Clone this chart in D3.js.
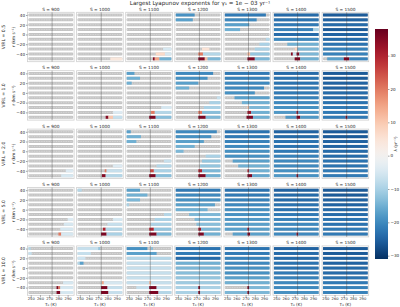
<!DOCTYPE html>
<html>
<head>
<meta charset="utf-8">
<script src="https://cdn.jsdelivr.net/npm/d3@7"></script>
<style>
  body { margin: 0; background: #fff; }
  text { font-family: "DejaVu Sans", sans-serif; fill: #262626; }
</style>
</head>
<body>
<svg id="chart" width="400" height="307"></svg>
<script>

//--------------------------------------
// DATA
//--------------------------------------

const VIRL_VALUES = [0.5, 1.0, 2.0, 5.0, 10.0];
const S_VALUES = [900, 1000, 1100, 1200, 1300, 1400, 1500];
const STRIPE_LEVELS = [40, 30, 20, 10, 0, -10, -20, -30, -40, -50];
const T0_TICKS = [250, 260, 270, 280, 290];
const LEVEL_TICKS = [40, 20, 0, -20, -40];
const CBAR_TICKS = [-30, -20, -10, 0, 10, 20, 30];
const T0_RANGE = [247.5, 296];
const FREEZING_T0 = 273.15;
const LAMBDA_RANGE = [-31, 38];

// one entry per S, each with one list per stripe (top to bottom)
// segments are [T0 start, T0 end, lambda]; anything not covered is grey
const lyapVirl05 = [
  [],
  [[], [], [], [], [], [], [], [], [], [[283, 296, 4]]],
  [[], [], [], [], [], [], [], [[287, 296, -5]], [[279, 289, 7], [289, 296, -5]], [[276, 278, 35], [278, 283, 15], [283, 296, -15]]],
  [[[247.5, 268, -19]], [[247.5, 266, -17]], [], [], [], [], [], [[276, 284, 5]], [[272, 277, 20], [277, 296, -9]], [[272, 279, 36], [279, 282, 12], [282, 296, -14]]],
  [[[247.5, 292, -22]], [[247.5, 282, -20]], [[247.5, 274, -17]], [[247.5, 264, -15]], [], [[292, 296, -9]], [[285, 296, -10]], [[280, 296, -10]], [[272, 275, 12], [275, 296, -12]], [[272, 280, 36], [280, 296, -14]]],
  [[[247.5, 296, -24]], [[247.5, 296, -23]], [[247.5, 296, -22]], [[247.5, 290, -21], [290, 296, -10]], [[247.5, 296, -24]], [[247.5, 296, -20]], [[262, 296, -15]], [[270, 273, 8], [273, 296, -14]], [[266, 268, 35], [268, 272, -7], [272, 275, 35], [275, 296, -14]], [[270, 276, 36], [276, 296, -15]]],
  [[[247.5, 296, -26]], [[247.5, 296, -25]], [[247.5, 296, -24]], [[247.5, 296, -26]], [[247.5, 296, -25]], [[247.5, 296, -24]], [[247.5, 296, -23]], [[247.5, 296, -21]], [[247.5, 296, -21]], [[252, 270, -17], [270, 276, 36], [276, 296, -21]]]
];

const lyapVirl10 = [
  [],
  [[], [], [], [], [], [], [], [], [[286, 296, -4]], [[278, 281, 35], [281, 286, 10], [286, 296, -7]]],
  [[[247.5, 256, -17]], [[247.5, 262, -15]], [[247.5, 253, -15]], [], [], [], [], [[285, 296, -5]], [[274, 278, 20], [278, 296, -9]], [[272, 279, 36], [279, 296, -13]]],
  [[[247.5, 288, -20]], [[247.5, 282, -19]], [[247.5, 272, -17]], [[247.5, 262, -15]], [], [[292, 296, -7]], [[284, 296, -10]], [[278, 296, -10]], [[272, 276, 20], [276, 296, -13]], [[272, 280, 36], [280, 296, -14]]],
  [[[247.5, 296, -22]], [[247.5, 296, -21]], [[247.5, 296, -20]], [[247.5, 290, -20]], [[247.5, 280, -19]], [[258, 296, -17]], [[266, 296, -15]], [[272, 274, 10], [274, 296, -14]], [[272, 276, 32], [276, 296, -15]], [[271, 278, 36], [278, 296, -15]]],
  [[[247.5, 296, -24]], [[247.5, 296, -23]], [[247.5, 296, -23]], [[247.5, 296, -22]], [[247.5, 296, -22]], [[247.5, 296, -21]], [[247.5, 296, -20]], [[247.5, 296, -19]], [[247.5, 272, -18], [272, 274, 34], [274, 296, -18]], [[260, 272, -18], [272, 276, 36], [276, 296, -18]]],
  [[[247.5, 296, -26]], [[247.5, 296, -26]], [[247.5, 296, -25]], [[247.5, 296, -25]], [[247.5, 296, -24]], [[247.5, 296, -24]], [[247.5, 296, -23]], [[247.5, 296, -22]], [[247.5, 296, -22]], [[247.5, 272, -22], [272, 274, 36], [274, 296, -22]]]
];

const lyapVirl20 = [
  [[], [], [], [], [], [], [], [], [[288, 296, -4]], [[283, 296, -5]]],
  [[], [], [], [], [], [], [], [[286, 296, -4]], [[277, 279, 20], [279, 296, -7]], [[274, 278, 35], [278, 296, -9]]],
  [[[247.5, 252, -17]], [[247.5, 263, -15]], [[247.5, 258, -15]], [], [], [], [[288, 296, -7]], [[280, 296, -9]], [[273, 277, 25], [277, 296, -10]], [[272, 279, 36], [279, 296, -13]]],
  [[[247.5, 292, -20]], [[247.5, 286, -19]], [[247.5, 278, -17]], [[247.5, 268, -15]], [[247.5, 256, -14]], [[280, 296, -10]], [[276, 296, -12]], [[274, 296, -12]], [[272, 276, 30], [276, 296, -14]], [[272, 280, 36], [280, 296, -15]]],
  [[[247.5, 296, -23]], [[247.5, 296, -22]], [[247.5, 296, -21]], [[247.5, 296, -20]], [[247.5, 296, -19]], [[247.5, 296, -19]], [[256, 296, -17]], [[262, 296, -15]], [[272, 274, 30], [274, 296, -15]], [[272, 277, 36], [277, 296, -16]]],
  [[[247.5, 296, -25]], [[247.5, 296, -24]], [[247.5, 296, -23]], [[247.5, 296, -23]], [[247.5, 296, -22]], [[247.5, 296, -21]], [[247.5, 296, -20]], [[247.5, 296, -20]], [[247.5, 296, -19]], [[247.5, 272, -18], [272, 274, 36], [274, 296, -19]]],
  [[[247.5, 296, -26]], [[247.5, 296, -26]], [[247.5, 296, -25]], [[247.5, 296, -25]], [[247.5, 296, -24]], [[247.5, 296, -24]], [[247.5, 296, -23]], [[247.5, 296, -23]], [[247.5, 296, -22]], [[247.5, 296, -22]]]
];

const lyapVirl50 = [
  [[], [], [], [], [], [], [[290, 296, -4]], [[286, 296, -5]], [[282, 296, -5]], [[280, 283, 20], [283, 296, -5]]],
  [[[247.5, 252, -9]], [], [], [], [], [], [[286, 296, -5]], [[280, 296, -7]], [[275, 278, 30], [278, 296, -9]], [[273, 279, 36], [279, 296, -10]]],
  [[[247.5, 262, -17]], [[247.5, 270, -15]], [[247.5, 262, -14]], [[247.5, 250, -10]], [], [[288, 296, -9]], [[278, 296, -10]], [[274, 296, -10]], [[272, 277, 30], [277, 296, -12]], [[272, 280, 36], [280, 296, -14]]],
  [[[247.5, 296, -22]], [[247.5, 296, -20]], [[247.5, 296, -19]], [[247.5, 290, -17]], [[247.5, 282, -15]], [[262, 296, -14]], [[268, 296, -14]], [[270, 296, -13]], [[272, 275, 32], [275, 296, -14]], [[272, 278, 36], [278, 296, -15]]],
  [[[247.5, 296, -23]], [[247.5, 296, -22]], [[247.5, 296, -21]], [[247.5, 296, -20]], [[247.5, 296, -19]], [[247.5, 296, -19]], [[247.5, 296, -18]], [[247.5, 296, -17]], [[247.5, 272, -17], [272, 274, 34], [274, 296, -17]], [[256, 272, -17], [272, 275, 36], [275, 296, -17]]],
  [[[247.5, 296, -25]], [[247.5, 296, -24]], [[247.5, 296, -24]], [[247.5, 296, -23]], [[247.5, 296, -23]], [[247.5, 296, -22]], [[247.5, 296, -21]], [[247.5, 296, -20]], [[247.5, 296, -20]], [[247.5, 272, -20], [272, 274, 36], [274, 296, -20]]],
  [[[247.5, 296, -26]], [[247.5, 296, -26]], [[247.5, 296, -25]], [[247.5, 296, -25]], [[247.5, 296, -24]], [[247.5, 296, -24]], [[247.5, 296, -23]], [[247.5, 296, -23]], [[247.5, 296, -22]], [[247.5, 296, -22]]]
];

const lyapVirl100 = [
  [[[247.5, 250, -9]], [[247.5, 251, -7]], [], [], [], [], [], [[285, 296, -5]], [[278, 280, 36], [280, 282, 20], [282, 296, -5]], [[278, 282, 36], [282, 296, -5]]],
  [[[247.5, 270, -7], [270, 272, -12]], [[247.5, 262, -7]], [[247.5, 256, -6]], [[247.5, 250, -9], [250, 254, -17]], [], [], [], [[274, 276, 15], [276, 296, -5]], [[273, 280, 36], [280, 296, -7]], [[273, 281, 36], [281, 296, -7]]],
  [[[247.5, 270, -19], [274, 276, -13]], [[247.5, 280, -17]], [[247.5, 296, -9]], [[247.5, 296, -7]], [[247.5, 296, -7]], [[247.5, 296, -7]], [[247.5, 296, -7]], [[247.5, 272, -7], [272, 274, 12], [274, 296, -7]], [[258, 272, -7], [272, 280, 36], [280, 296, -7]], [[272, 282, 36], [282, 296, -9]]],
  [[[247.5, 296, -23]], [[247.5, 296, -22]], [[247.5, 296, -24]], [[247.5, 296, -15]], [[247.5, 296, -14]], [[247.5, 296, -13]], [[247.5, 296, -12]], [[247.5, 296, -11]], [[247.5, 272, -10], [272, 274, 36], [274, 296, -10]], [[247.5, 272, -10], [272, 274, 36], [274, 296, -10]]],
  [[[247.5, 296, -23]], [[247.5, 296, -22]], [[247.5, 296, -21]], [[247.5, 296, -20]], [[247.5, 296, -19]], [[247.5, 296, -19]], [[247.5, 296, -17]], [[247.5, 296, -15]], [[272, 274, 36], [274, 296, -14]], [[247.5, 272, -14], [272, 274, 36], [274, 296, -14]]],
  [[[247.5, 296, -25]], [[247.5, 296, -24]], [[247.5, 296, -24]], [[247.5, 296, -23]], [[247.5, 296, -23]], [[247.5, 296, -22]], [[247.5, 296, -21]], [[247.5, 296, -20]], [[247.5, 296, -20]], [[247.5, 296, -19]]],
  [[[247.5, 296, -26]], [[247.5, 296, -26]], [[247.5, 296, -25]], [[247.5, 296, -25]], [[247.5, 296, -24]], [[247.5, 296, -24]], [[247.5, 296, -23]], [[247.5, 296, -22]], [[247.5, 296, -21]], [[247.5, 296, -21]]]
];

const LYAP_ROWS = [lyapVirl05, lyapVirl10, lyapVirl20, lyapVirl50, lyapVirl100];


//--------------------------------------
// LAYOUT
//--------------------------------------

const PANEL_X0 = 27.5, PANEL_DX = 49.1, PANEL_W = 46.6;
const PANEL_Y0 = 12.3, PANEL_DY = 58.4, PANEL_H = 49.4;
const STRIPE_H = 3.0;
const GREY = "#c4c4c4";

const svg = d3.select("#chart");

const x = d3.scaleLinear().domain([246.5, 297]).range([0, PANEL_W]);
const y = d3.scaleLinear().domain([45.5, -55.8]).range([0, PANEL_H]);
const colour = d3.scaleDiverging(function(t) { return d3.interpolateRdBu(1 - t); })
  .domain([LAMBDA_RANGE[0], 0, LAMBDA_RANGE[1]]);


function fmtVirl(v) { return v.toFixed(1); }


function _drawPanel(g, stripes) {

  g.append("rect")
    .attr("width", PANEL_W).attr("height", PANEL_H)
    .attr("fill", "#fff").attr("stroke", "#cfcfcf").attr("stroke-width", 0.8);

  STRIPE_LEVELS.forEach(function(level, i) {
    var segs = stripes[i] || [];
    var yc = y(level);

    g.append("rect")
      .attr("x", x(T0_RANGE[0])).attr("y", yc - STRIPE_H / 2)
      .attr("width", x(T0_RANGE[1]) - x(T0_RANGE[0])).attr("height", STRIPE_H)
      .attr("rx", 1).attr("fill", GREY);

    // the grey markers have white rims, a dotted centre line mimics them
    g.append("line")
      .attr("x1", x(T0_RANGE[0]) + 0.5).attr("x2", x(T0_RANGE[1]) - 0.5)
      .attr("y1", yc).attr("y2", yc)
      .attr("stroke", "#fff").attr("stroke-opacity", 0.55)
      .attr("stroke-width", 0.7).attr("stroke-dasharray", "0.8,0.9");

    g.selectAll(null).data(segs).enter().append("rect")
      .attr("x", function(d) { return x(d[0]); })
      .attr("y", yc - STRIPE_H / 2)
      .attr("width", function(d) { return x(d[1]) - x(d[0]); })
      .attr("height", STRIPE_H)
      .attr("fill", function(d) { return colour(d[2]); });
  });

  g.append("line")
    .attr("x1", x(FREEZING_T0)).attr("x2", x(FREEZING_T0))
    .attr("y1", 0).attr("y2", PANEL_H)
    .attr("stroke", "#3a3a3a").attr("stroke-opacity", 0.65).attr("stroke-width", 0.55);
}


function _styleAxis(a, size) {
  a.select(".domain").remove();
  a.selectAll(".tick line").attr("stroke", "#444").attr("stroke-width", 0.5);
  a.selectAll(".tick text").style("font-size", size + "px").attr("fill", "#262626");
}


//--------------------------------------
// PANELS
//--------------------------------------

LYAP_ROWS.forEach(function(row, r) {

  var top = PANEL_Y0 + r * PANEL_DY;

  row.forEach(function(stripes, c) {
    var left = PANEL_X0 + c * PANEL_DX;
    var g = svg.append("g").attr("transform", "translate(" + left + "," + top + ")");

    _drawPanel(g, stripes);

    g.append("text")
      .attr("x", PANEL_W / 2).attr("y", -1.6)
      .attr("text-anchor", "middle").style("font-size", "4.3px")
      .text("S = " + S_VALUES[c]);

    if (c === 0) {
      var ay = g.append("g").call(d3.axisLeft(y).tickValues(LEVEL_TICKS).tickSize(1.5).tickPadding(1));
      _styleAxis(ay, 4.1);
    }

    if (r === LYAP_ROWS.length - 1) {
      var ax = g.append("g").attr("transform", "translate(0," + PANEL_H + ")")
        .call(d3.axisBottom(x).tickValues(T0_TICKS).tickSize(1.5).tickPadding(0.8));
      _styleAxis(ax, 3.7);

      g.append("text")
        .attr("x", PANEL_W / 2).attr("y", PANEL_H + 10.6)
        .attr("text-anchor", "middle").style("font-size", "4.2px")
        .text("T\u2080 (K)");
    }
  });

  // row labels
  svg.append("text")
    .attr("transform", "translate(5," + (top + PANEL_H / 2) + ") rotate(-90)")
    .attr("text-anchor", "middle").style("font-size", "4.6px")
    .text("VIRL = " + fmtVirl(VIRL_VALUES[r]));

  svg.append("text")
    .attr("transform", "translate(15," + (top + PANEL_H / 2) + ") rotate(-90)")
    .attr("text-anchor", "middle").style("font-size", "4.2px")
    .text("r (km s\u207B\u00B9)");
});


//--------------------------------------
// TITLE
//--------------------------------------

svg.append("text")
  .attr("x", 200).attr("y", 5.2)
  .attr("text-anchor", "middle").style("font-size", "5.6px")
  .text("Largest Lyapunov exponents for \u03B3\u2081 = 1e \u2212 03 yr\u207B\u00B9");


//--------------------------------------
// COLOURBAR
//--------------------------------------

const CB_X = 375, CB_W = 13, CB_TOP = 29, CB_BOTTOM = 259;
const cbScale = d3.scaleLinear().domain([LAMBDA_RANGE[1], LAMBDA_RANGE[0]]).range([CB_TOP, CB_BOTTOM]);

var grad = svg.append("defs").append("linearGradient")
  .attr("id", "cbGrad").attr("x1", 0).attr("x2", 0).attr("y1", 0).attr("y2", 1);

d3.range(0, 1.0001, 0.02).forEach(function(t) {
  var v = LAMBDA_RANGE[1] - t * (LAMBDA_RANGE[1] - LAMBDA_RANGE[0]);
  grad.append("stop").attr("offset", t).attr("stop-color", colour(v));
});

svg.append("rect")
  .attr("x", CB_X).attr("y", CB_TOP).attr("width", CB_W).attr("height", CB_BOTTOM - CB_TOP)
  .attr("fill", "url(#cbGrad)");

var cbAxis = svg.append("g").attr("transform", "translate(" + (CB_X + CB_W) + ",0)")
  .call(d3.axisRight(cbScale).tickValues(CBAR_TICKS).tickSize(1.5).tickPadding(1));
_styleAxis(cbAxis, 4.1);

svg.append("text")
  .attr("transform", "translate(397," + ((CB_TOP + CB_BOTTOM) / 2) + ") rotate(-90)")
  .attr("text-anchor", "middle").style("font-size", "4.2px")
  .text("\u03BB (yr\u207B\u00B9)");

</script>
</body>
</html>
